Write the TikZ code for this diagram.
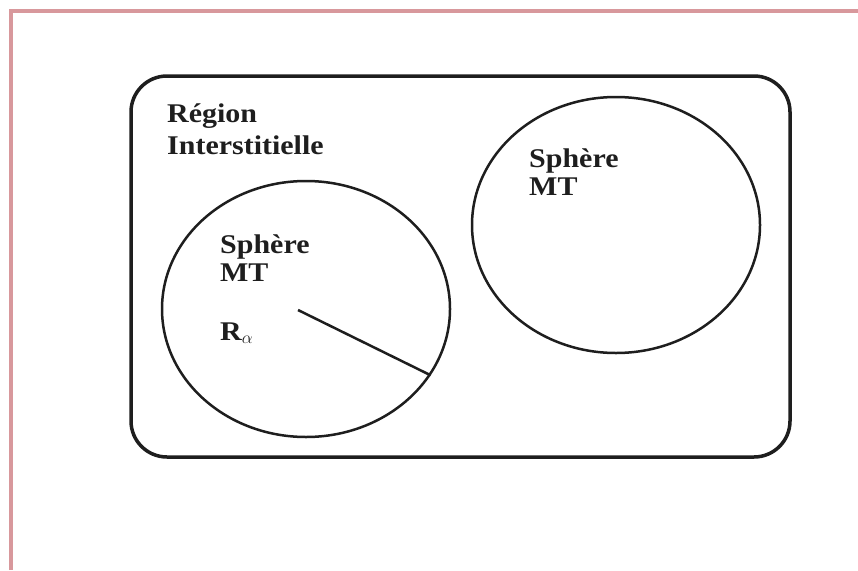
\documentclass[tikz,border=0pt]{standalone}
\usepackage{fontspec}
\setmainfont[FakeStretch=1.11]{Liberation Serif}
\usetikzlibrary{positioning,shapes.geometric}
\definecolor{cadre}{RGB}{216,152,156}
\definecolor{encre}{RGB}{30,30,30}

\tikzset{
  sphere/.style={draw=encre, ellipse, line width=2.5, minimum width=288, minimum height=256, inner sep=0},
  etiquette/.style={text=encre, font=\fontsize{27}{28}\selectfont\bfseries, align=left, inner sep=0}
}

\begin{document}
\begin{tikzpicture}[x=1pt,y=-1pt]
\useasboundingbox (0,0) rectangle (858,570);
\fill[white] (0,0) rectangle (858,570);
% cadre
\draw[cadre, line width=4](11,570) -- (11,11) -- (858,11);
% region interstitielle
\draw[encre, line width=3.5, rounded corners=36](131,76) rectangle (790,457);
\node[etiquette, font=\fontsize{27}{32}\selectfont\bfseries, anchor=base west] (region) at (167,154) {Région\\Interstitielle};
% spheres
\node[sphere] (mtA) at (306,309) {};
\node[sphere] (mtB) at (616,225) {};
\node[etiquette, anchor=base west] (txtA) at (220,281) {Sphère\\MT};
\node[etiquette, anchor=base west] (txtB) at (529,195) {Sphère\\MT};
% rayon
\coordinate (centre) at (298,310);
\draw[encre, line width=2.5](centre) -- (mtA.-28);
\node[etiquette, anchor=base west] (rayon) at (220,340) {R$_\alpha$};
\end{tikzpicture}
\end{document}
